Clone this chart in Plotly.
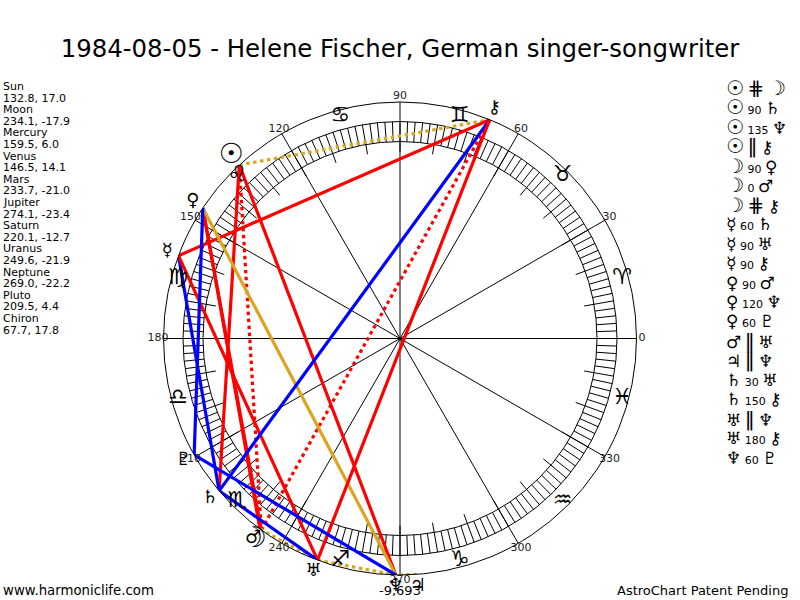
import plotly.graph_objects as go

#planet data, longitude + declination from the left hand list
names = ['Sun', 'Moon', 'Mercury', 'Venus', 'Mars', 'Jupiter', 'Saturn', 'Uranus', 'Neptune', 'Pluto', 'Chiron']
lons = [132.8, 234.1, 159.5, 146.5, 233.7, 274.1, 220.1, 249.6, 269.0, 209.5, 67.7]
decs = ['17.0', '-17.9', '6.0', '14.1', '-21.0', '-23.4', '-12.7', '-21.9', '-22.2', '4.4', '17.8']
lon_text = ['132.8', '234.1', '159.5', '146.5', '233.7', '274.1', '220.1', '249.6', '269.0', '209.5', '67.7']
glyphs = ['☉', '☽', '☿', '♀', '♂', '♃', '♄', '♅', '♆', '♇', '⚷']

signs = ['♈', '♉', '♊', '♋', '♌', '♍', '♎', '♏', '♐', '♑', '♒', '♓']

#aspects, same order as right hand list
asp_from = ['Sun', 'Sun', 'Sun', 'Sun', 'Moon', 'Moon', 'Moon', 'Mercury', 'Mercury', 'Mercury',
            'Venus', 'Venus', 'Venus', 'Mars', 'Jupiter', 'Saturn', 'Saturn', 'Uranus', 'Uranus', 'Neptune']
asp_to = ['Moon', 'Saturn', 'Neptune', 'Chiron', 'Venus', 'Mars', 'Chiron', 'Saturn', 'Uranus', 'Chiron',
          'Mars', 'Neptune', 'Pluto', 'Uranus', 'Neptune', 'Uranus', 'Chiron', 'Neptune', 'Chiron', 'Pluto']
asp_kind = ['#', '90', '135', '||', '90', '0', '#', '60', '90', '90',
            '90', '120', '60', '||', '||', '30', '150', '||', '180', '60']

title = '1984-08-05 - Helene Fischer, German singer-songwriter'
year_label = '-9,693'
spokes = [0, 30, 60, 90, 120, 150, 180, 210, 240, 270, 300, 330]

CX, CY, R = 400, 338.5, 236.5
OUTER = 1.08  #overlay subplot reaches past the circle so planet glyphs can sit outside it
GOLD = '#DAA520'
DOTS = '3.5px,3.5px'
kind_style = {'#': ('#FF0000', DOTS), '||': (GOLD, DOTS), '0': ('#FF0000', 'solid'),
              '30': ('#0000FF', 'solid'), '60': ('#0000FF', 'solid'), '150': ('#0000FF', 'solid'),
              '90': ('#FF0000', 'solid'), '135': ('#FF0000', 'solid'), '180': ('#FF0000', 'solid'),
              '120': (GOLD, 'solid')}
kind_label = {'#': '⋕', '||': '‖'}

def px(x):
    return x / 800

def py(y):
    return 1 - y / 600

fig = go.Figure()

#ring ticks every 2 degrees, longer inward ones every 10
tick_r, tick_t = [], []
for a in range(0, 360, 2):
    tick_r += [(187 if a % 10 == 0 else 197) / R, 217 / R, None]
    tick_t += [a, a, None]
fig.add_trace(go.Scatterpolar(r=tick_r, theta=tick_t, mode='lines',
                              line=dict(color='black', width=1), hoverinfo='skip'))

#aspect lines
for a, b, k in zip(asp_from, asp_to, asp_kind):
    col, dash = kind_style[k]
    fig.add_trace(go.Scatterpolar(r=[1, 1], theta=[lons[names.index(a)], lons[names.index(b)]],
                                  mode='lines', line=dict(color=col, width=3.2, dash=dash),
                                  name=f'{a} {k} {b}'))

#zodiac signs
fig.add_trace(go.Scatterpolar(r=[230 / R] * 12, theta=[15 + 30 * i for i in range(12)], mode='text',
                              text=signs, cliponaxis=False,
                              textfont=dict(family='DejaVu Sans', size=22, color='black')))
#degree labels, plotly's own angular tick labels sit too far out here
fig.add_trace(go.Scatterpolar(r=[242 / R] * len(spokes), theta=spokes, mode='text',
                              text=[str(s) for s in spokes], cliponaxis=False, subplot='polar2',
                              textfont=dict(family='DejaVu Sans', size=11, color='#222222')))
#planet glyphs
sizes = [28 if n in ('Sun', 'Moon') else 18 for n in names]
fig.add_trace(go.Scatterpolar(r=[1.05] * len(lons), theta=lons, mode='text', text=glyphs, cliponaxis=False,
                              subplot='polar2',
                              textfont=dict(family='DejaVu Sans', size=sizes, color='black')))

fig.update_layout(
    width=800, height=600, autosize=False,
    margin=dict(l=0, r=0, t=0, b=0),
    paper_bgcolor='white',
    showlegend=False,
    title=dict(text=title, x=0.5, xanchor='center', y=py(48), yanchor='middle',
               font=dict(family='DejaVu Sans', size=24.4, color='black')),
    polar=dict(
        domain=dict(x=[px(CX - R), px(CX + R)], y=[py(CY + R), py(CY - R)]),
        bgcolor='white',
        radialaxis=dict(range=[0, 1], tickvals=[197 / R, 217 / R], showticklabels=False, ticks='',
                        showline=False, showgrid=True, gridcolor='black', gridwidth=1),
        angularaxis=dict(direction='counterclockwise', rotation=0, tickmode='array', tickvals=spokes,
                         showticklabels=False,
                         ticks='', showgrid=True, gridcolor='black', gridwidth=1,
                         showline=True, linecolor='black', linewidth=1),
    ),
    polar2=dict(
        domain=dict(x=[px(CX - R * OUTER), px(CX + R * OUTER)], y=[py(CY + R * OUTER), py(CY - R * OUTER)]),
        bgcolor='rgba(0,0,0,0)',
        radialaxis=dict(range=[0, OUTER], visible=False),
        angularaxis=dict(direction='counterclockwise', rotation=0, visible=False),
    ),
)

def label(text, x, y, size=11, anchor='left'):
    fig.add_annotation(text=text, x=px(x), y=py(y), xref='paper', yref='paper', showarrow=False,
                       xanchor=anchor, yanchor='middle', align=anchor, borderpad=0,
                       font=dict(family='DejaVu Sans', size=size, color='black'))

#left list
for i, n in enumerate(names):
    label(n, 2, 86.5 + i * 2 * 11.6)
    label(f'{lon_text[i]}, {decs[i]}', 2, 98 + i * 2 * 11.6)

#right list
for i, (a, b, k) in enumerate(zip(asp_from, asp_to, asp_kind)):
    g1 = glyphs[names.index(a)]
    g2 = glyphs[names.index(b)]
    big = a in ('Sun', 'Moon')
    s1 = 20 if big else 17
    s2 = 20 if b == 'Moon' else 17
    mid = kind_label.get(k, k)
    mid_size = 20 if k in kind_label else 11
    txt = (f'<span style="font-size:{s1}px">{g1}</span> <span style="font-size:{mid_size}px">{mid}</span> '
           f'<span style="font-size:{s2}px">{g2}</span>')
    label(txt, 725, 88 + i * 19.45)

label('www.harmoniclife.com', 2, 590, size=13.3)
label('AstroChart Patent Pending', 789, 590, size=13, anchor='right')
label(year_label, CX, 590, size=13, anchor='center')

#the page's default body margin would push the whole figure 8px in
fig.write_html('out.html', config={'displayModeBar': False}, post_script="document.body.style.margin='0';")
